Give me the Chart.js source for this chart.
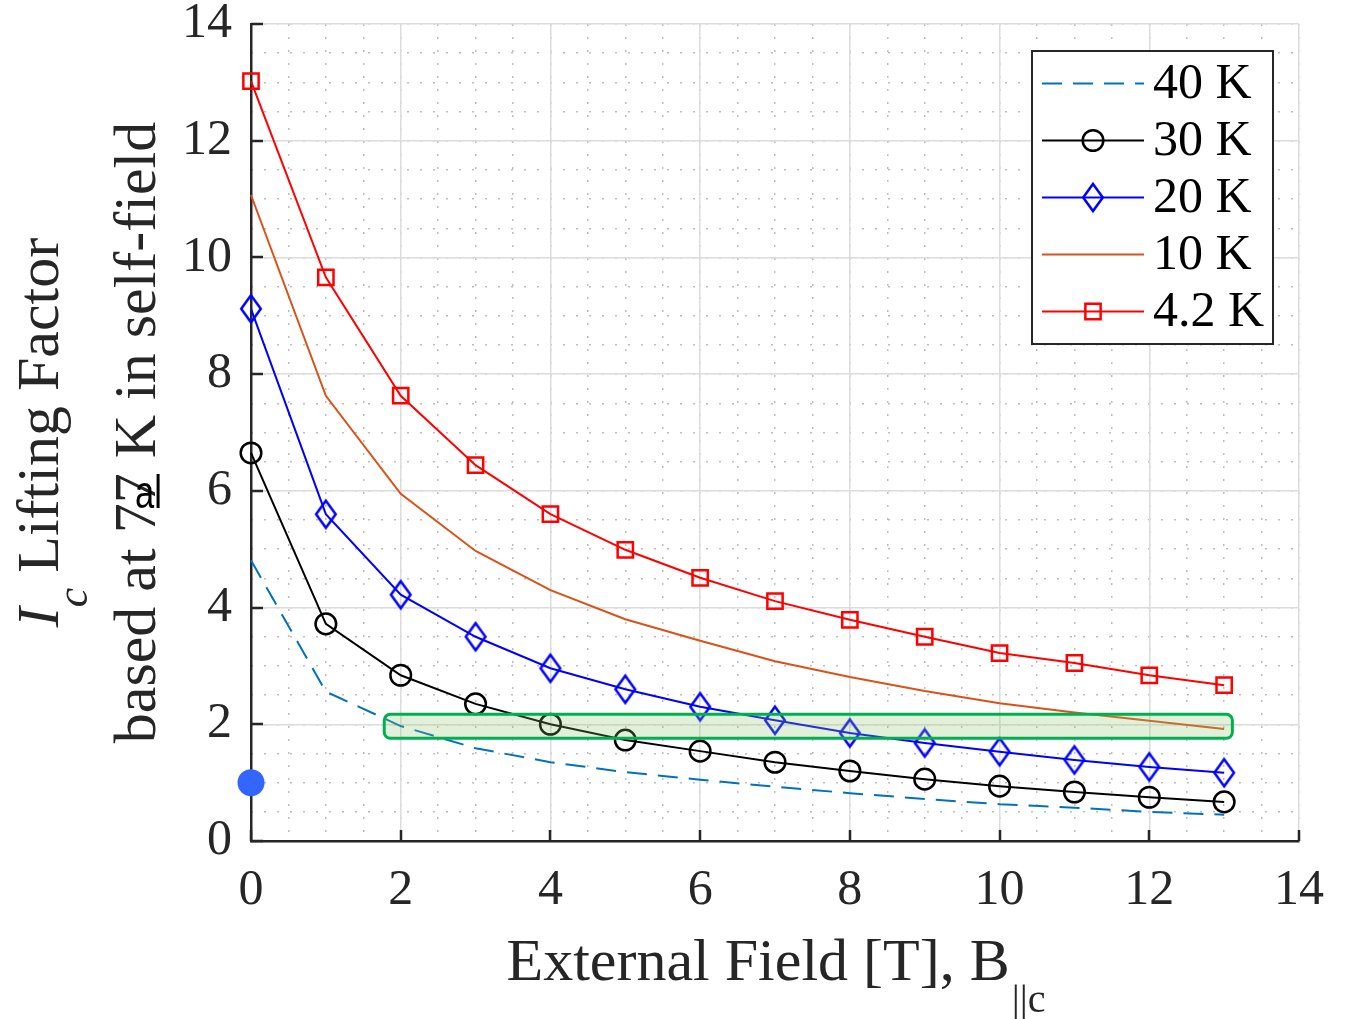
<!DOCTYPE html>
<html>
<head>
<meta charset="utf-8">
<script src="https://cdn.jsdelivr.net/npm/chart.js@4.4.1/dist/chart.umd.min.js"></script>
<style>
  body { margin: 0; background: #fff; }
  canvas { display: block; }
</style>
</head>
<body>
<canvas id="liftChart" width="1353" height="1019"></canvas>
<script>
// external field [T]
const fieldT = [0, 1, 2, 3, 4, 5, 6, 7, 8, 9, 10, 11, 12, 13];

// Ic lifting factor per temperature
const lift40K  = [4.81, 2.56, 1.97, 1.59, 1.35, 1.18, 1.05, 0.93, 0.82, 0.72, 0.63, 0.57, 0.50, 0.45];
const lift30K  = [6.65, 3.72, 2.84, 2.35, 2.00, 1.73, 1.54, 1.35, 1.20, 1.06, 0.94, 0.84, 0.75, 0.67];
const lift20K  = [9.12, 5.60, 4.22, 3.50, 2.96, 2.60, 2.30, 2.07, 1.85, 1.68, 1.53, 1.39, 1.27, 1.17];
const lift10K  = [11.07, 7.63, 5.95, 4.97, 4.30, 3.80, 3.43, 3.08, 2.81, 2.57, 2.36, 2.20, 2.06, 1.92];
const lift4K2  = [13.02, 9.66, 7.63, 6.44, 5.60, 4.99, 4.51, 4.11, 3.79, 3.50, 3.22, 3.05, 2.84, 2.67];

const seriesLabels = ['40 K', '30 K', '20 K', '10 K', '4.2 K'];

// reference point (77 K, self-field) and highlighted band
const selfFieldRef = [{ x: 0, y: 1.0 }];
const bandX = [1.78, 13.11];
const bandY = [1.76, 2.17];

// ticks
const xTickValues = [0, 2, 4, 6, 8, 10, 12, 14];
const yTickValues = [0, 2, 4, 6, 8, 10, 12, 14];
const xMinorValues = [0, 0.5, 1, 1.5, 2, 2.5, 3, 3.5, 4, 4.5, 5, 5.5, 6, 6.5, 7, 7.5, 8, 8.5, 9, 9.5, 10, 10.5, 11, 11.5, 12, 12.5, 13, 13.5, 14];
const yMinorValues = xMinorValues;

const SERIF = '"Liberation Serif", "Times New Roman", serif';
const INK = '#262626';

function toPoints(ys) {
  return fieldT.map((x, i) => ({ x: x, y: ys[i] }));
}

// matlab-like diamond (taller than wide)
function diamondMarker(color) {
  const c = document.createElement('canvas');
  c.width = 26; c.height = 33;
  const g = c.getContext('2d');
  g.strokeStyle = color;
  g.lineWidth = 2.5;
  g.beginPath();
  g.moveTo(13, 3);
  g.lineTo(22.8, 16.5);
  g.lineTo(13, 30);
  g.lineTo(3.2, 16.5);
  g.closePath();
  g.stroke();
  return c;
}

const datasets = [
  {
    label: seriesLabels[0], data: toPoints(lift40K),
    borderColor: '#0072BD', borderWidth: 2, borderDash: [20, 11],
    pointRadius: 0, pointStyle: false
  },
  {
    label: seriesLabels[1], data: toPoints(lift30K),
    borderColor: '#000000', borderWidth: 2,
    pointStyle: 'circle', pointRadius: 10.3, pointBorderWidth: 2.5,
    pointBorderColor: '#000000', pointBackgroundColor: 'rgba(0,0,0,0)'
  },
  {
    label: seriesLabels[2], data: toPoints(lift20K),
    borderColor: '#0000FF', borderWidth: 2,
    pointStyle: diamondMarker('#0000FF'), pointRadius: 12
  },
  {
    label: seriesLabels[3], data: toPoints(lift10K),
    borderColor: '#D95319', borderWidth: 2,
    pointRadius: 0, pointStyle: false
  },
  {
    label: seriesLabels[4], data: toPoints(lift4K2),
    borderColor: '#FF0000', borderWidth: 2,
    pointStyle: 'rect', pointRadius: 10.8, pointBorderWidth: 2.5,
    pointBorderColor: '#FF0000', pointBackgroundColor: 'rgba(0,0,0,0)'
  },
  {
    label: 'ref', data: selfFieldRef, showLine: false,
    pointStyle: 'circle', pointRadius: 13.5, pointBorderWidth: 0,
    pointBackgroundColor: '#3366FF', borderColor: '#3366FF'
  }
];
datasets.forEach(d => { d.clip = false; d.tension = 0; d.showLine = d.showLine !== false; });

// green band drawn on top of the curves
const bandPlugin = {
  id: 'band',
  afterDatasetsDraw(chart) {
    const { ctx, scales: { x, y } } = chart;
    const x1 = x.getPixelForValue(bandX[0]), x2 = x.getPixelForValue(bandX[1]);
    const y1 = y.getPixelForValue(bandY[1]), y2 = y.getPixelForValue(bandY[0]);
    ctx.save();
    ctx.beginPath();
    ctx.roundRect(x1, y1, x2 - x1, y2 - y1, 6);
    ctx.fillStyle = 'rgba(139,195,103,0.25)';
    ctx.fill();
    ctx.lineWidth = 3;
    ctx.strokeStyle = '#00B050';
    ctx.stroke();
    ctx.restore();
  }
};

// inward ticks, axis titles, legend
const decorPlugin = {
  id: 'decor',
  afterDraw(chart) {
    const { ctx, chartArea: area, scales: { x, y } } = chart;
    ctx.save();

    // inward tick marks
    ctx.strokeStyle = INK;
    ctx.lineWidth = 2.5;
    ctx.beginPath();
    xTickValues.forEach(v => {
      const px = Math.round(x.getPixelForValue(v));
      ctx.moveTo(px, area.bottom);
      ctx.lineTo(px, area.bottom - 11);
    });
    yTickValues.forEach(v => {
      const py = Math.round(y.getPixelForValue(v));
      ctx.moveTo(area.left, py);
      ctx.lineTo(area.left + 12, py);
    });
    ctx.stroke();

    ctx.fillStyle = INK;
    ctx.textBaseline = 'alphabetic';

    // x title with subscript
    const mainX = 'External Field [T], B';
    const subX = '||c';
    ctx.font = '60px ' + SERIF;
    const wMain = ctx.measureText(mainX).width;
    ctx.font = '40px ' + SERIF;
    const wSub = ctx.measureText(subX).width;
    let sx = (area.left + area.right) / 2 - (wMain + wSub) / 2;
    ctx.font = '60px ' + SERIF;
    ctx.textAlign = 'left';
    ctx.fillText(mainX, sx, 980);
    ctx.font = '40px ' + SERIF;
    ctx.fillText(subX, sx + wMain + 2, 1012);

    // y title, two lines, rotated
    const midY = (area.top + area.bottom) / 2;
    ctx.save();
    ctx.translate(58, midY);
    ctx.rotate(-Math.PI / 2);
    ctx.font = 'italic 60px ' + SERIF;
    const wI = ctx.measureText('I').width;
    ctx.font = 'italic 44px ' + SERIF;
    const wc = ctx.measureText('c').width;
    ctx.font = '60px ' + SERIF;
    const wRest = ctx.measureText(' Lifting Factor').width;
    let tx = -(wI + wc + wRest) / 2;
    ctx.font = 'italic 60px ' + SERIF;
    ctx.fillText('I', tx, 0);
    ctx.font = 'italic 44px ' + SERIF;
    ctx.fillText('c', tx + wI, 29);
    ctx.font = '60px ' + SERIF;
    ctx.fillText(' Lifting Factor', tx + wI + wc, 0);
    ctx.restore();

    ctx.save();
    ctx.translate(155, midY);
    ctx.rotate(-Math.PI / 2);
    ctx.font = '60px ' + SERIF;
    ctx.textAlign = 'center';
    ctx.fillText('based at 77 K in self-field', 0, 0);
    ctx.restore();

    // stray glyphs over the label, as in the source figure
    ctx.save();
    ctx.fillStyle = '#000';
    ctx.translate(135, 508);
    ctx.scale(0.75, 1);
    ctx.font = '46px "Liberation Sans", Arial, sans-serif';
    ctx.textAlign = 'left';
    ctx.fillText('al', 0, 0);
    ctx.restore();

    // legend box
    const bx = 1032, by = 51, bw = 241, bh = 293;
    ctx.fillStyle = '#fff';
    ctx.fillRect(bx, by, bw, bh);
    ctx.strokeStyle = INK;
    ctx.lineWidth = 2;
    ctx.strokeRect(bx, by, bw, bh);

    ctx.font = '50px ' + SERIF;
    ctx.textAlign = 'left';
    ctx.textBaseline = 'middle';
    for (let i = 0; i < seriesLabels.length; i++) {
      const ds = chart.data.datasets[i];
      const ry = 83.5 + i * 57;
      ctx.save();
      ctx.strokeStyle = ds.borderColor;
      ctx.lineWidth = ds.borderWidth;
      ctx.setLineDash(ds.borderDash || []);
      ctx.beginPath();
      ctx.moveTo(1042, ry);
      ctx.lineTo(1144, ry);
      ctx.stroke();
      ctx.setLineDash([]);
      if (ds.pointStyle) {
        ctx.strokeStyle = ds.pointBorderColor || ds.borderColor;
        ctx.fillStyle = 'rgba(0,0,0,0)';
        ctx.lineWidth = ds.pointBorderWidth || 2.5;
        Chart.helpers.drawPoint(ctx, {
          pointStyle: ds.pointStyle, radius: ds.pointRadius,
          rotation: 0, borderWidth: ctx.lineWidth
        }, 1093, ry);
      }
      ctx.restore();
      ctx.fillStyle = '#000';
      ctx.fillText(ds.label, 1153, ry + 1.5);
    }

    ctx.restore();
  }
};

const tickFont = { family: SERIF, size: 50, lineHeight: 1 };

new Chart(document.getElementById('liftChart'), {
  type: 'scatter',
  data: { datasets: datasets },
  options: {
    responsive: false,
    animation: false,
    layout: { padding: { top: 24, right: 54, left: 0, bottom: 0 } },
    plugins: { legend: { display: false }, tooltip: { enabled: false } },
    scales: {
      x: {
        type: 'linear', position: 'bottom', min: 0, max: 14,
        afterBuildTicks: s => { s.ticks = xTickValues.map(v => ({ value: v })); },
        ticks: { font: tickFont, color: INK, padding: 25, maxRotation: 0, autoSkip: false },
        grid: { color: '#dcdcdc', lineWidth: 1.5, drawTicks: false },
        border: { color: INK, width: 2.5 },
        afterFit: s => { s.height = 178; s.paddingLeft = 0; s.paddingRight = 0; }
      },
      y: {
        type: 'linear', position: 'left', min: 0, max: 14,
        afterBuildTicks: s => { s.ticks = yTickValues.map(v => ({ value: v })); },
        ticks: { font: tickFont, color: INK, padding: 19, autoSkip: false },
        grid: { color: '#dcdcdc', lineWidth: 1.5, drawTicks: false },
        border: { color: INK, width: 2.5 },
        afterFit: s => { s.width = 251; s.paddingTop = 0; s.paddingBottom = 0; }
      },
      xMinor: {
        type: 'linear', position: 'bottom', min: 0, max: 14,
        afterBuildTicks: s => { s.ticks = xMinorValues.map(v => ({ value: v })); },
        ticks: { display: false },
        grid: { color: '#bdbdbd', lineWidth: 1.5, drawTicks: false, z: -2 },
        border: { display: false, dash: [2, 11] },
        afterFit: s => { s.height = 0; s.paddingLeft = 0; s.paddingRight = 0; }
      },
      yMinor: {
        type: 'linear', position: 'left', min: 0, max: 14,
        afterBuildTicks: s => { s.ticks = yMinorValues.map(v => ({ value: v })); },
        ticks: { display: false },
        grid: { color: '#bdbdbd', lineWidth: 1.5, drawTicks: false, z: -2 },
        border: { display: false, dash: [2, 11] },
        afterFit: s => { s.width = 0; s.paddingTop = 0; s.paddingBottom = 0; }
      }
    }
  },
  plugins: [bandPlugin, decorPlugin]
});
</script>
</body>
</html>
